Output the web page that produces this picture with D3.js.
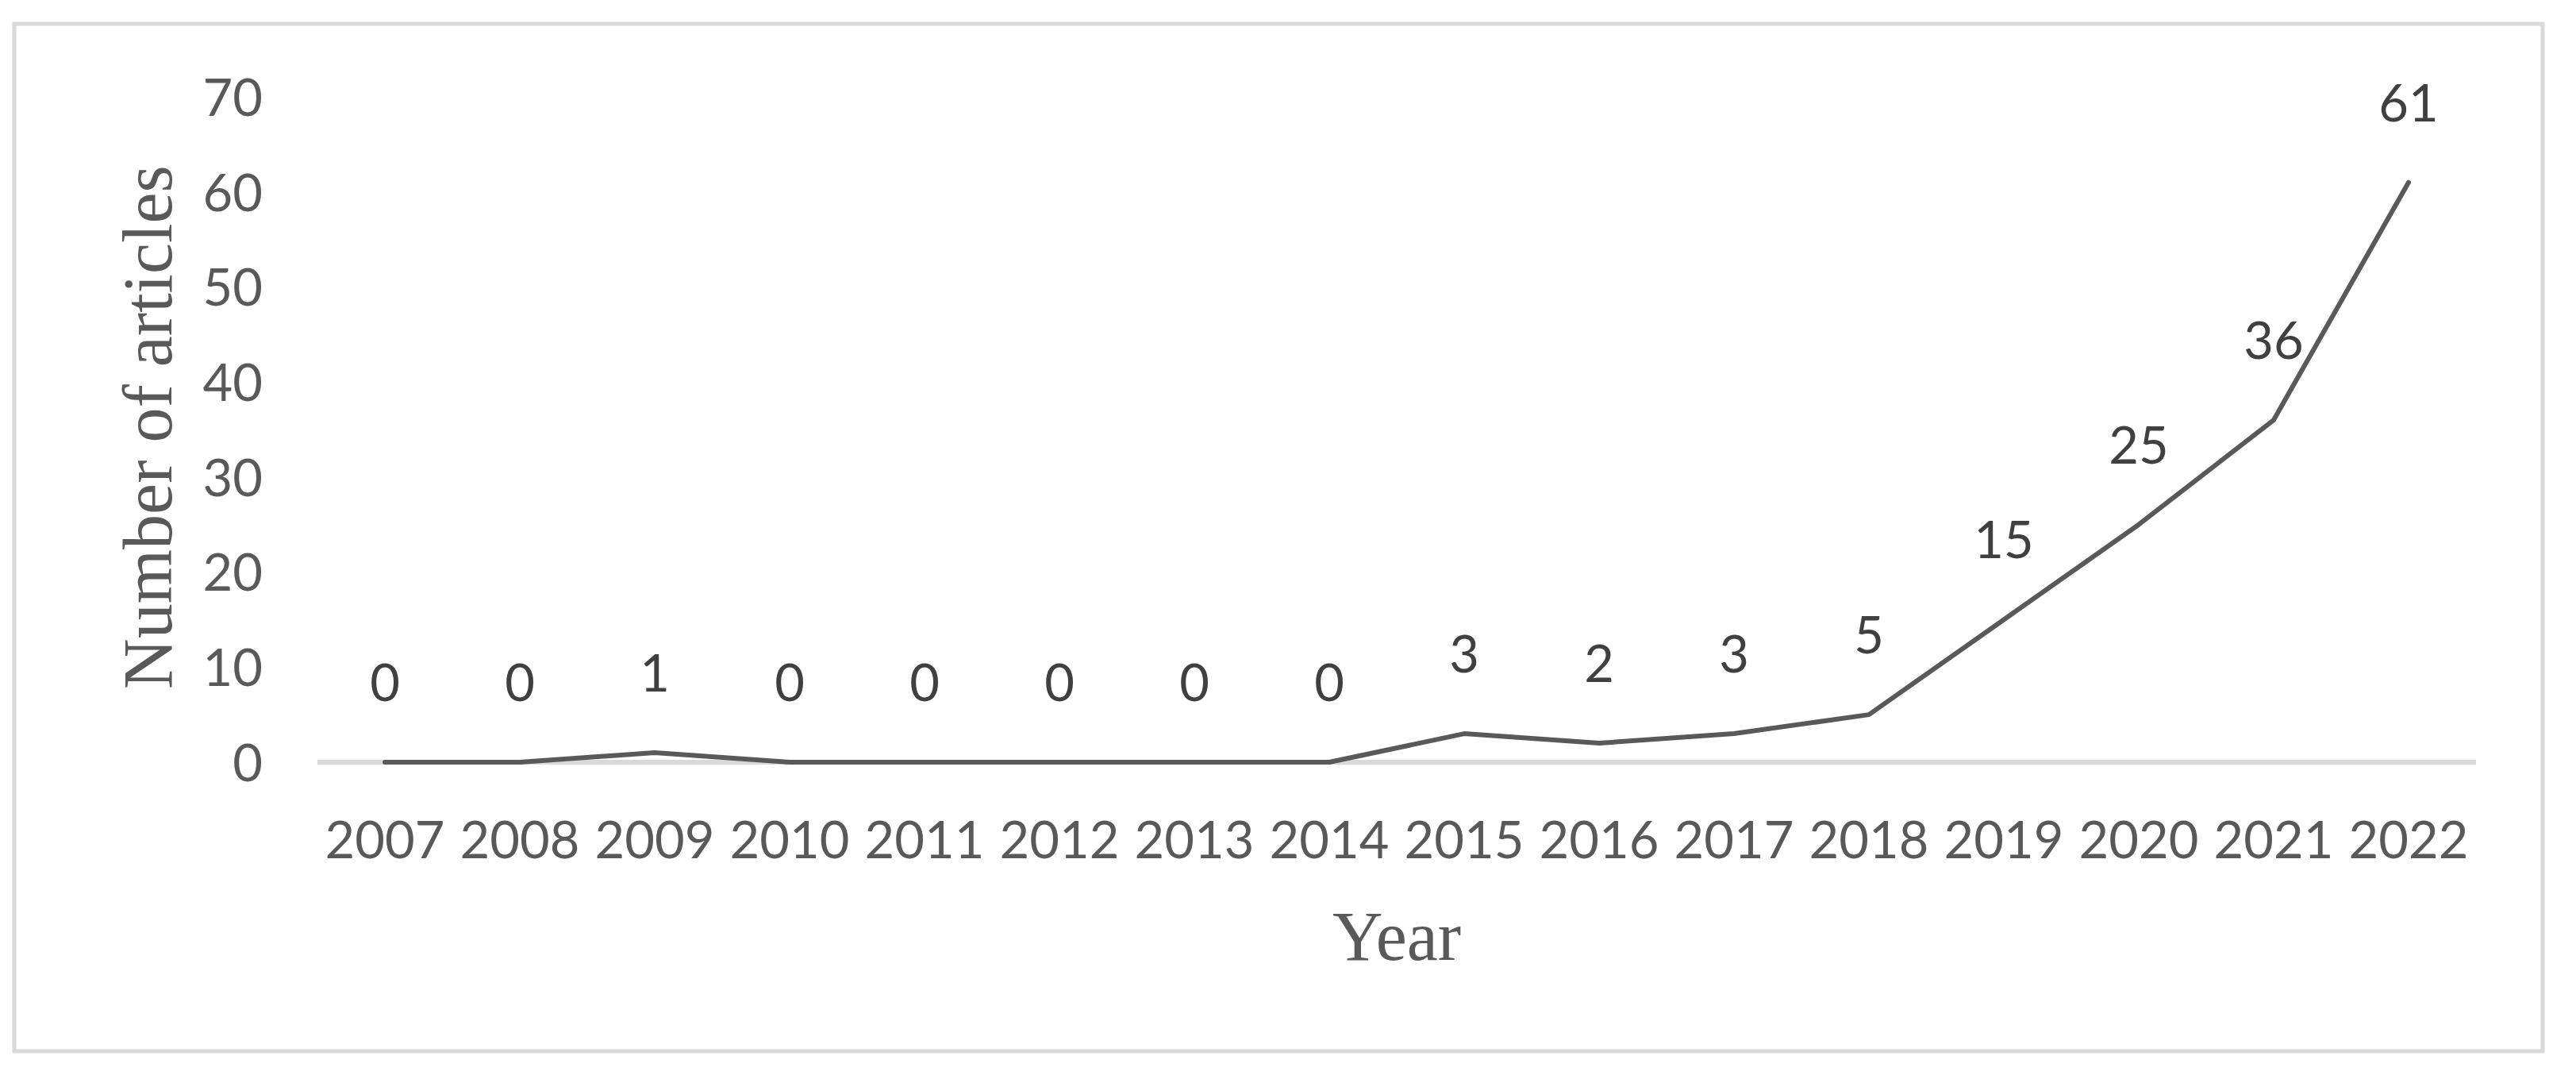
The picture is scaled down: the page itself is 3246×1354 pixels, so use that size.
<!DOCTYPE html>
<html>
<head>
<meta charset="utf-8">
<script src="https://cdn.jsdelivr.net/npm/d3@7"></script>
<style>
  html, body { margin: 0; padding: 0; background: #ffffff; }
  svg { display: block; }
</style>
</head>
<body>
<svg id="chart" width="3246" height="1354"></svg>
<script>
// ---- data ----
const years = ["2007","2008","2009","2010","2011","2012","2013","2014","2015","2016","2017","2018","2019","2020","2021","2022"];
const articles = [0,0,1,0,0,0,0,0,3,2,3,5,15,25,36,61];
const yTicks = [0,10,20,30,40,50,60,70];
const xTitle = "Year";
const yTitle = "Number of articles";

// ---- layout ----
const W = 3246, H = 1354;
const plot = { left: 400, right: 3120, top: 122, bottom: 960 };
const svg = d3.select("#chart");

// outer border
svg.append("rect")
  .attr("x", 18).attr("y", 30)
  .attr("width", 3186).attr("height", 1294)
  .attr("fill", "#ffffff")
  .attr("stroke", "#d9d9d9").attr("stroke-width", 5);

const x = d3.scaleBand().domain(years).range([plot.left, plot.right]).paddingInner(0).paddingOuter(0);
const y = d3.scaleLinear().domain([0, 70]).range([plot.bottom, plot.top]);
const cx = d => x(d) + x.bandwidth() / 2;

const tickFont = "Lato, 'Open Sans', sans-serif";
const tickSize = 65;

// y axis (labels only)
const yAxis = d3.axisLeft(y).tickValues(yTicks).tickSize(0).tickPadding(0).tickFormat(d3.format("d"));
const gy = svg.append("g").attr("transform", `translate(${331},0)`).call(yAxis);
gy.select(".domain").remove();
gy.selectAll("text")
  .attr("font-family", tickFont).attr("font-size", tickSize)
  .attr("fill", "#595959").attr("dy", "0.36em");

// x axis: light gray baseline + labels
const xAxis = d3.axisBottom(x).tickSize(0).tickPadding(0);
const gx = svg.append("g").attr("transform", `translate(0,${plot.bottom})`).call(xAxis);
gx.select(".domain").attr("stroke", "#d9d9d9").attr("stroke-width", 6)
  .attr("d", `M${plot.left},0H${plot.right}`);
gx.selectAll("text")
  .attr("font-family", tickFont).attr("font-size", tickSize)
  .attr("fill", "#595959").attr("dy", null).attr("y", 121);

// line
const line = d3.line().x((d, i) => cx(years[i])).y(d => y(d));
svg.append("path")
  .datum(articles)
  .attr("d", line)
  .attr("fill", "none")
  .attr("stroke", "#595959")
  .attr("stroke-width", 6)
  .attr("stroke-linejoin", "round")
  .attr("stroke-linecap", "round");

// data labels
svg.append("g").selectAll("text")
  .data(articles)
  .join("text")
  .attr("x", (d, i) => cx(years[i]))
  .attr("y", d => y(d) - 77)
  .attr("text-anchor", "middle")
  .attr("font-family", tickFont).attr("font-size", tickSize)
  .attr("fill", "#404040")
  .text(d => d);

// axis titles
svg.append("text")
  .attr("x", (plot.left + plot.right) / 2).attr("y", 1209)
  .attr("text-anchor", "middle")
  .attr("font-family", "'Liberation Serif', 'Times New Roman', serif")
  .attr("font-size", 88).attr("fill", "#595959")
  .text(xTitle);

svg.append("text")
  .attr("transform", `translate(216,538) rotate(-90)`)
  .attr("text-anchor", "middle")
  .attr("font-family", "'Liberation Serif', 'Times New Roman', serif")
  .attr("font-size", 88).attr("fill", "#595959")
  .text(yTitle);
</script>
</body>
</html>
